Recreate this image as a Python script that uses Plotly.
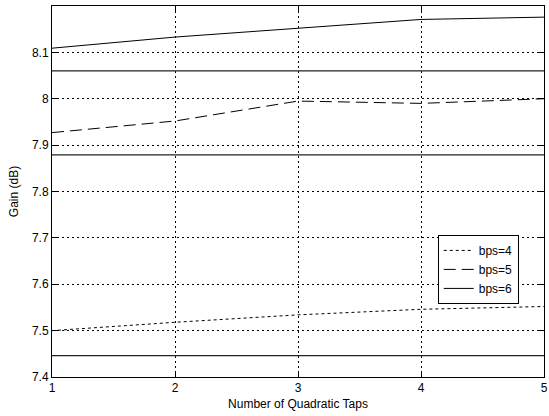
import plotly.graph_objects as go

taps = [1, 2, 3, 4, 5]
bps4 = [7.500, 7.518, 7.534, 7.546, 7.552]
bps5 = [7.927, 7.952, 7.995, 7.990, 8.000]
bps6 = [8.109, 8.133, 8.152, 8.171, 8.176]
ref_levels = [8.060, 7.879, 7.446]
ref_x = [1, 5]
y_ticks = [7.4, 7.5, 7.6, 7.7, 7.8, 7.9, 8.0, 8.1]
y_tick_labels = ["7.4", "7.5", "7.6", "7.7", "7.8", "7.9", "8", "8.1"]

fig = go.Figure()
for lvl in ref_levels:
    fig.add_trace(go.Scatter(x=ref_x, y=[lvl, lvl], mode="lines",
                             line=dict(color="#222222", width=1.3),
                             showlegend=False, hoverinfo="skip"))
fig.add_trace(go.Scatter(x=taps, y=bps4, mode="lines", name="bps=4",
                         line=dict(color="black", width=1, dash="3px,3px")))
fig.add_trace(go.Scatter(x=taps, y=bps5, mode="lines", name="bps=5",
                         line=dict(color="black", width=1, dash="12px,6px")))
fig.add_trace(go.Scatter(x=taps, y=bps6, mode="lines", name="bps=6",
                         line=dict(color="black", width=1)))

fig.update_layout(
    width=549, height=416,
    margin=dict(l=52, r=1, t=6, b=39),
    paper_bgcolor="white", plot_bgcolor="white",
    font=dict(family="Liberation Sans, Arial", size=12, color="black"),
    legend=dict(x=0.784, y=0.383, xanchor="left", yanchor="top",
                bgcolor="white", bordercolor="black", borderwidth=1,
                font=dict(size=12), tracegroupgap=0),
    showlegend=True,
)
fig.update_xaxes(range=[1, 5], tickvals=taps, ticktext=[str(t) for t in taps],
                 ticklabeloverflow="allow",
                 showline=True, linecolor="black", linewidth=1, mirror="ticks",
                 ticks="inside", ticklen=5, tickcolor="black",
                 showgrid=True, gridcolor="black", gridwidth=1, griddash="2px,3px",
                 zeroline=False,
                 title=dict(text="Number of Quadratic Taps", font=dict(size=12), standoff=5))
fig.update_yaxes(range=[7.4, 8.2], tickvals=y_ticks, ticktext=y_tick_labels,
                 showline=True, linecolor="black", linewidth=1, mirror="ticks",
                 ticks="inside", ticklen=5, tickcolor="black",
                 showgrid=True, gridcolor="black", gridwidth=1, griddash="2px,3px",
                 zeroline=False,
                 title=dict(text="Gain (dB)", font=dict(size=12), standoff=10))

fig.write_html("out.html")
